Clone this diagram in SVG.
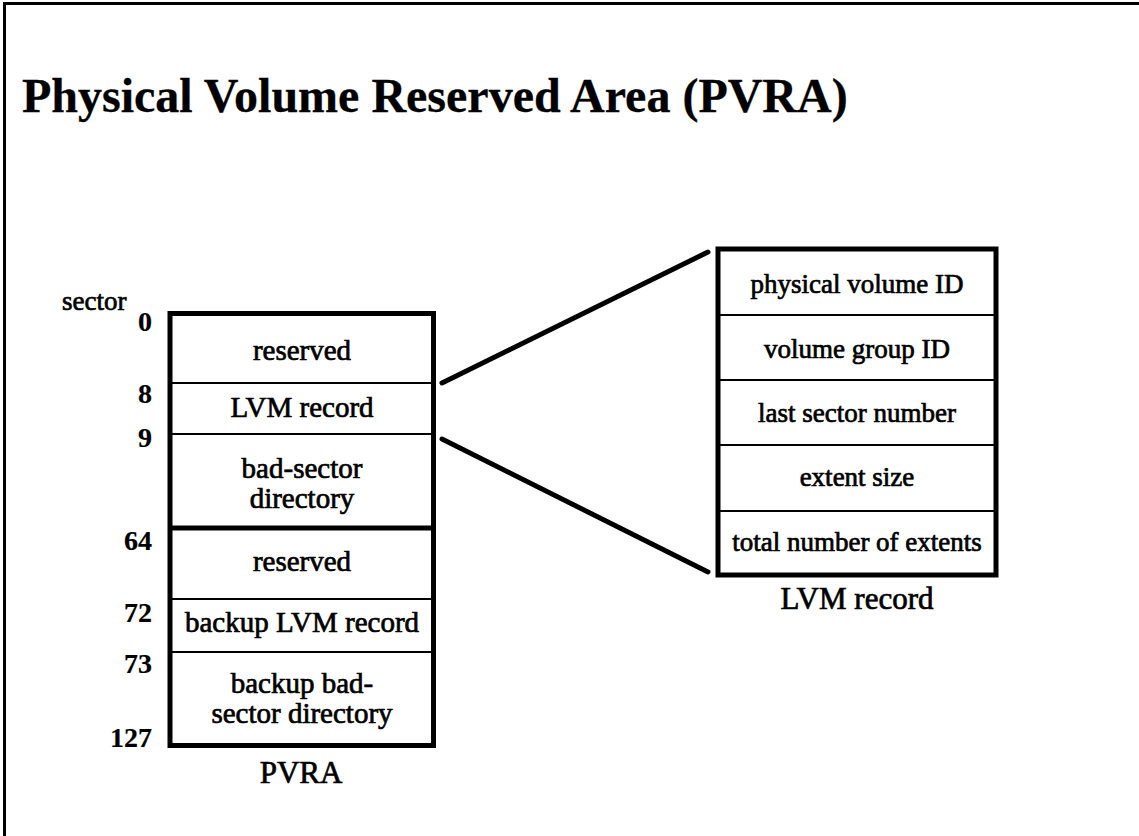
<svg xmlns="http://www.w3.org/2000/svg" width="1139" height="836" viewBox="0 0 1139 836">
<style>
text{font-family:"Liberation Serif","Times New Roman",serif;fill:#000;stroke:#000;stroke-width:0.7}
.title{font-size:48px;font-weight:bold;stroke-width:0.3}
.cell{font-size:29px;text-anchor:middle}
.rcell{font-size:27px;text-anchor:middle}
.cap{font-size:31px;text-anchor:middle}
.num{font-size:28px;text-anchor:end;font-weight:bold;stroke-width:0.2}
.outer{fill:#fff;stroke:#000;stroke-width:5}
.thin{stroke:#000;stroke-width:2}
.thick{stroke:#000;stroke-width:5}
.conn{stroke:#000;stroke-width:5;stroke-linecap:round;fill:none}
</style>
<rect width="1139" height="836" fill="#fff"/>
<g id="frame">
<line x1="3" y1="3.5" x2="1139" y2="3.5" stroke="#000" stroke-width="3"/>
<line x1="4.5" y1="2" x2="4.5" y2="836" stroke="#000" stroke-width="3"/>
</g>
<g id="title"><text class="title" x="22" y="112">Physical Volume Reserved Area (PVRA)</text></g>
<g id="pvra">
<rect class="outer" x="170" y="313.5" width="263.5" height="432"/>
<line class="thin" x1="170" y1="383" x2="433.5" y2="383"/>
<line class="thin" x1="170" y1="434" x2="433.5" y2="434"/>
<line class="thick" x1="170" y1="528" x2="433.5" y2="528"/>
<line class="thin" x1="170" y1="599" x2="433.5" y2="599"/>
<line class="thin" x1="170" y1="652" x2="433.5" y2="652"/>
<text class="cell" x="302" y="360">reserved</text>
<text class="cell" x="302" y="417">LVM record</text>
<text class="cell" x="302" y="478">bad-sector</text>
<text class="cell" x="302" y="508">directory</text>
<text class="cell" x="302" y="571">reserved</text>
<text class="cell" x="302" y="632">backup LVM record</text>
<text class="cell" x="302" y="693">backup bad-</text>
<text class="cell" x="302" y="723">sector directory</text>
<text class="cap" x="301" y="783">PVRA</text>
</g>
<g id="sectors">
<text x="62" y="310" style="font-size:27px">sector</text>
<text class="num" x="152" y="331">0</text>
<text class="num" x="152" y="403">8</text>
<text class="num" x="152" y="447">9</text>
<text class="num" x="152" y="550">64</text>
<text class="num" x="152" y="622">72</text>
<text class="num" x="152" y="673">73</text>
<text class="num" x="152" y="747">127</text>
</g>
<g id="lvm-record">
<rect class="outer" x="718" y="249" width="278" height="326"/>
<line class="thin" x1="718" y1="315" x2="996" y2="315"/>
<line class="thin" x1="718" y1="380" x2="996" y2="380"/>
<line class="thin" x1="718" y1="445" x2="996" y2="445"/>
<line class="thin" x1="718" y1="511" x2="996" y2="511"/>
<text class="rcell" x="857" y="293">physical volume ID</text>
<text class="rcell" x="857" y="358">volume group ID</text>
<text class="rcell" x="857" y="422">last sector number</text>
<text class="rcell" x="857" y="486">extent size</text>
<text class="rcell" x="857" y="551">total number of extents</text>
<text class="cap" x="857" y="609">LVM record</text>
</g>
<g id="connectors">
<line class="conn" x1="442" y1="383" x2="708" y2="252"/>
<line class="conn" x1="442" y1="439" x2="708" y2="572"/>
</g>
</svg>
